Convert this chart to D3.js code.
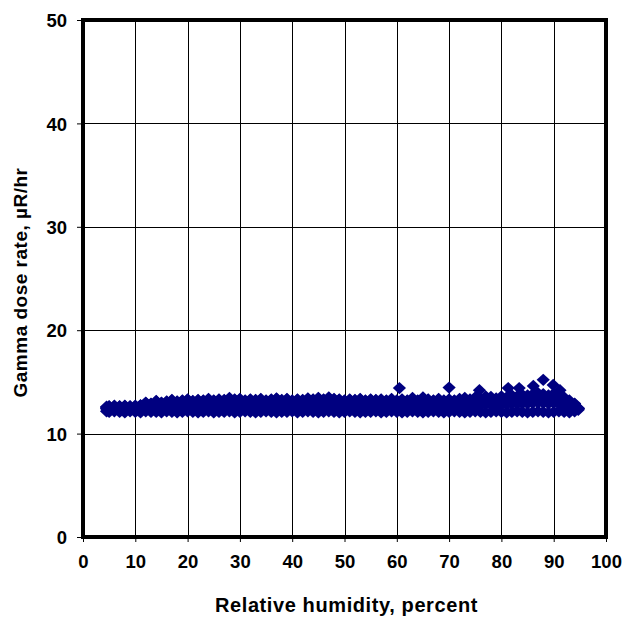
<!DOCTYPE html>
<html><head><meta charset="utf-8">
<script src="https://cdn.jsdelivr.net/npm/d3@7"></script>
<style>body{margin:0;background:#fff;}svg{display:block;}text{font-family:"Liberation Sans",Arial,sans-serif;font-weight:bold;fill:#000;}</style>
</head><body><svg id="c" width="627" height="621"></svg>
<script>
const xTicks = [0,10,20,30,40,50,60,70,80,90,100];
const yTicks = [0,10,20,30,40,50];
const xTitle = "Relative humidity, percent";
const yTitle = "Gamma dose rate, \u00b5R/hr";

const humidity = [4.5,5,6,7,8,9,10,11,12,13,14,15,16,17,18,19,20,21,22,23,24,25,26,27,28,29,30,31,32,33,34,35,36,37,38,39,40,41,42,43,44,45,46,47,48,49,50,51,52,53,54,55,56,57,58,59,60,61,62,63,64,65,66,67,68,69,70,71,72,73,74,75,76,77,78,79,80,81,82,83,84,85,86,87,88,89,90,91,92,93,94,94.7];
const doseLow = [12.15,12.1,12.15,12.1,12.05,12.15,12.1,12.05,12.15,12.1,12.1,12.05,12.15,12.1,12.05,12.1,12.15,12.1,12.05,12.1,12.15,12.05,12.1,12.1,12.15,12.05,12.1,12.15,12.1,12.05,12.1,12.15,12.1,12.05,12.1,12.1,12.15,12.05,12.1,12.15,12.1,12.05,12.1,12.15,12.1,12.05,12.1,12.15,12.1,12.05,12.1,12.1,12.15,12.05,12.1,12.15,12.1,12.05,12.1,12.15,12.1,12.05,12.1,12.15,12.1,12.05,12.1,12.15,12.1,12.05,12.1,12.15,12.1,12.05,12.1,12.15,12.1,12.05,12.1,12.15,12.1,12.05,12.1,12.15,12.1,12.05,12.1,12.15,12.1,12.05,12.15,12.3];
const doseMid = [12.4,12.45,12.5,12.45,12.5,12.45,12.5,12.5,12.6,12.55,12.65,12.6,12.6,12.7,12.6,12.65,12.7,12.65,12.7,12.65,12.7,12.65,12.7,12.7,12.75,12.7,12.7,12.65,12.7,12.7,12.75,12.65,12.7,12.75,12.7,12.7,12.65,12.7,12.7,12.75,12.7,12.75,12.7,12.8,12.7,12.7,12.65,12.7,12.7,12.75,12.65,12.7,12.7,12.7,12.65,12.75,12.65,12.7,12.65,12.75,12.65,12.8,12.7,12.65,12.7,12.65,12.7,12.65,12.7,12.75,12.7,12.8,12.7,12.85,12.8,12.75,12.85,12.8,12.9,12.85,12.9,12.9,12.95,13.0,12.95,12.9,12.95,12.85,12.8,12.7,12.6,12.4];
const doseUpper = [12.5,12.6,12.65,12.6,12.65,12.6,12.65,12.7,12.95,12.85,13.1,12.95,13.05,13.2,13.05,13.15,13.25,13.1,13.2,13.15,13.3,13.15,13.25,13.2,13.35,13.25,13.3,13.15,13.25,13.2,13.3,13.15,13.25,13.35,13.2,13.3,13.15,13.25,13.2,13.35,13.25,13.4,13.25,13.4,13.3,13.25,13.15,13.25,13.2,13.3,13.15,13.25,13.2,13.25,13.15,13.3,13.15,13.25,13.15,13.35,13.15,13.4,13.25,13.15,13.3,13.15,13.25,13.15,13.3,13.35,13.25,13.35,13.3,13.4,13.4,13.3,13.4,13.35,13.45,13.4,13.45,13.45,13.5,13.5,13.45,13.4,13.5,13.35,13.3,13.1,12.85,12.45];
const doseHigh = [12.6,12.65,12.7,12.65,12.7,12.65,12.7,12.75,13.0,12.9,13.15,13.0,13.1,13.25,13.1,13.2,13.3,13.15,13.25,13.2,13.35,13.2,13.3,13.25,13.45,13.3,13.35,13.2,13.3,13.25,13.35,13.2,13.3,13.4,13.25,13.35,13.2,13.3,13.25,13.4,13.3,13.45,13.3,13.5,13.35,13.3,13.2,13.3,13.25,13.35,13.2,13.3,13.25,13.3,13.2,13.35,13.2,13.3,13.2,13.45,13.2,13.5,13.3,13.2,13.35,13.2,13.3,13.2,13.35,13.45,13.3,13.5,13.35,13.6,13.55,13.4,13.6,13.5,13.7,13.6,13.75,13.7,13.8,13.9,13.8,13.7,13.85,13.6,13.5,13.2,12.9,12.45];
const outlierHumidity = [60.5,70,75.8,81.3,83.4,86.1,88,89.9,91.2];
const outlierDose = [14.4,14.45,14.2,14.4,14.4,14.6,15.2,14.7,14.2];

const svg = d3.select("#c");
const L = 83, R = 606, T = 20, B = 537;
const x = d3.scaleLinear().domain([0,100]).range([L,R]);
const y = d3.scaleLinear().domain([0,50]).range([B,T]);

// gridlines
svg.append("g").selectAll("line").data(xTicks.slice(1,-1)).join("line")
  .attr("x1",d=>Math.round(x(d))+0.5).attr("x2",d=>Math.round(x(d))+0.5)
  .attr("y1",T).attr("y2",B).attr("stroke","#000").attr("stroke-width",1);
svg.append("g").selectAll("line").data(yTicks.slice(1,-1)).join("line")
  .attr("y1",d=>Math.round(y(d))+0.5).attr("y2",d=>Math.round(y(d))+0.5)
  .attr("x1",L).attr("x2",R).attr("stroke","#000").attr("stroke-width",1);

// axes
const xAxis = d3.axisBottom(x).tickValues(xTicks).tickSize(5).tickPadding(13);
const yAxis = d3.axisLeft(y).tickValues(yTicks).tickSize(6).tickPadding(10);
const gx = svg.append("g").attr("transform",`translate(0,${B})`).call(xAxis);
const gy = svg.append("g").attr("transform",`translate(${L},0)`).call(yAxis);
[gx,gy].forEach(g=>{
  g.select(".domain").remove();
  g.selectAll("text").style("font-size","18.5px").style("font-family",'"Liberation Sans",Arial,sans-serif').style("font-weight","bold").attr("fill","#000");
  g.selectAll("line").attr("stroke","#000");
});
gy.selectAll("text").attr("dy","0.36em");

// points
const pts = [];
humidity.forEach((h,i)=>{
  pts.push([h,doseLow[i]],[h,doseMid[i]],[h,doseUpper[i]],[h,doseHigh[i]]);
});
outlierHumidity.forEach((h,i)=>pts.push([h,outlierDose[i]]));
const diamond = "M0,-6.2L6.6,0L0,6.2L-6.6,0Z";
svg.append("g").selectAll("path").data(pts).join("path")
  .attr("d",diamond)
  .attr("transform",d=>`translate(${x(d[0])},${y(d[1])})`)
  .attr("fill","#000080");

// frame
svg.append("rect").attr("x",L).attr("y",T).attr("width",R-L).attr("height",B-T)
  .attr("fill","none").attr("stroke","#000").attr("stroke-width",4);

// titles
svg.append("text").attr("x",(L+R)/2 + 2).attr("y",612).attr("text-anchor","middle")
  .style("font-size","20px").style("letter-spacing","0.6px").text(xTitle);
svg.append("text").attr("transform",`translate(27,${(T+B)/2 + 4}) rotate(-90)`).attr("text-anchor","middle")
  .style("font-size","19px").style("letter-spacing","0.5px").text(yTitle);
</script></body></html>
